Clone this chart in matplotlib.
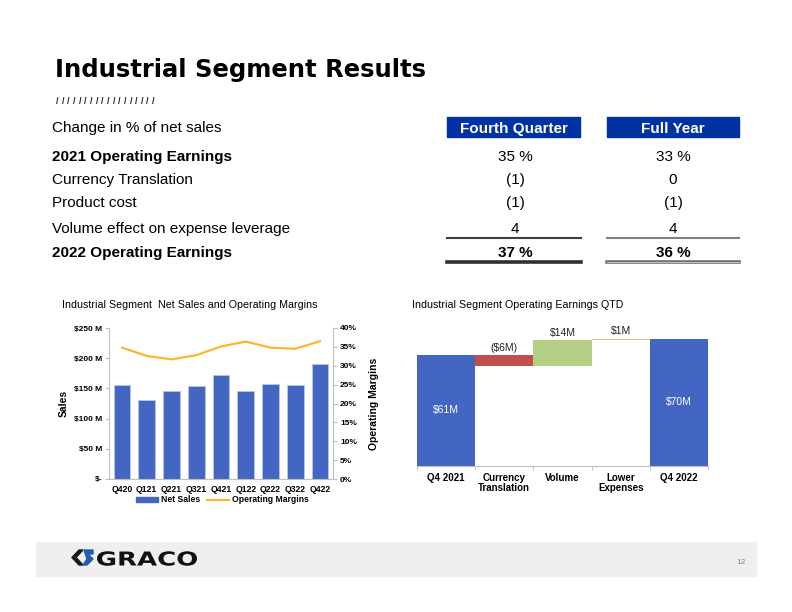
import numpy as np
import matplotlib
matplotlib.use("Agg")
import matplotlib.pyplot as plt
from matplotlib.patches import Rectangle, Polygon, PathPatch
from matplotlib.lines import Line2D
from matplotlib.textpath import TextPath
from matplotlib.font_manager import FontProperties
from matplotlib.transforms import Affine2D

plt.rcParams["font.family"] = ["Liberation Sans", "DejaVu Sans"]

# =========================
# DATA
# =========================
quarters = ["Q420", "Q121", "Q221", "Q321", "Q421", "Q122", "Q222", "Q322", "Q422"]
net_sales = [156, 130, 145, 154, 173, 145, 158, 155, 190]          # $M
op_margins = [34.8, 32.6, 31.7, 32.8, 35.1, 36.4, 34.8, 34.5, 36.5]  # %

wf_labels = ["Q4 2021", "Currency\nTranslation", "Volume", "Lower\nExpenses", "Q4 2022"]
wf_values = [61, -6, 14, 1, 70]
wf_text = ["$61M", "($6M)", "$14M", "$1M", "$70M"]

row_labels = ["2021 Operating Earnings", "Currency Translation", "Product cost",
              "Volume effect on expense leverage", "2022 Operating Earnings"]
fourth_quarter = ["35 %", "(1)", "(1)", "4", "37 %"]
full_year = ["33 %", "0", "(1)", "4", "36 %"]

W, H = 792, 612
BLUE = "#4266C1"
ORANGE = "#FDB72F"
HEAD = "#0033A1"


def fx(x):
    return x / W


def fy(y):
    return 1 - y / H


fig = plt.figure(figsize=(W / 100, H / 100), dpi=100)

# =========================
# TITLE + TABLE
# =========================
fig.text(fx(55), fy(67), "Industrial Segment Results", fontsize=17.5, fontweight="bold",
         family="DejaVu Sans", va="center_baseline", ha="left")
for k in range(18):
    fig.text(fx(56 + k * 5.65), fy(100), "/", fontsize=6.5, va="center_baseline", ha="left",
             color="#222222", fontweight="bold")

fig.text(fx(52), fy(126.5), "Change in % of net sales", fontsize=11, va="center_baseline")
row_y = [155.5, 178.5, 201.5, 227.5, 251.5]
for i, lab in enumerate(row_labels):
    bold = i in (0, 4)
    fig.text(fx(52), fy(row_y[i]), lab, fontsize=11, va="center_baseline",
             fontweight="bold" if bold else "normal")
    vw = "bold" if i == 4 else "normal"
    fig.text(fx(515), fy(row_y[i]), fourth_quarter[i], fontsize=11, va="center_baseline",
             ha="center", fontweight=vw)
    fig.text(fx(673), fy(row_y[i]), full_year[i], fontsize=11, va="center_baseline",
             ha="center", fontweight=vw)

for x0, x1, txt in [(447, 580, "Fourth Quarter"), (607, 739, "Full Year")]:
    fig.patches.append(Rectangle((fx(x0), fy(137)), fx(x1 - x0), 20 / H,
                                 transform=fig.transFigure, color=HEAD))
    fig.text(fx((x0 + x1) / 2), fy(127.5), txt, color="white", fontsize=11,
             fontweight="bold", ha="center", va="center_baseline")

# rule lines
fig.add_artist(Line2D([fx(447), fx(581)], [fy(237.5), fy(237.5)], color="#404040", lw=1.5))
fig.add_artist(Line2D([fx(447), fx(581)], [fy(261.5), fy(261.5)], color="#303030", lw=2.6))
fig.add_artist(Line2D([fx(607), fx(739)], [fy(237.5), fy(237.5)], color="#808080", lw=1.5))
fig.add_artist(Line2D([fx(607), fx(739)], [fy(261.5), fy(261.5)], color="#707070", lw=2.6))
fig.add_artist(Line2D([fx(607), fx(739)], [fy(261.5), fy(261.5)], color="#d0d0d0", lw=0.6))

# =========================
# LEFT CHART - sales + margins
# =========================
ax = fig.add_axes([fx(109), fy(479), fx(333 - 109), (479 - 328) / H])
x = np.arange(len(quarters))
ax.bar(x, net_sales, width=0.68, color=BLUE, edgecolor="#b8c6e8", linewidth=0.6)
ax.set_xlim(-0.525, len(quarters) - 0.475)
ax.set_ylim(0, 250)
ax.set_yticks([0, 50, 100, 150, 200, 250])
ax.set_yticklabels(["$-", "$50 M", "$100 M", "$150 M", "$200 M", "$250 M"],
                   fontsize=6, fontweight="bold")
ax.set_xticks(x)
ax.set_xticklabels(quarters, fontsize=6.2, fontweight="bold")
ax.tick_params(axis="x", length=0, pad=4)
ax.tick_params(axis="y", length=3, color="#bfbfbf", pad=2)
for s in ["top", "right"]:
    ax.spines[s].set_visible(False)
ax.spines["left"].set_color("#bfbfbf")
ax.spines["bottom"].set_color("#bfbfbf")
ax.set_ylabel("Sales", fontsize=7.5, fontweight="bold", labelpad=4)

ax2 = ax.twinx()
ax2.plot(x, op_margins, color=ORANGE, lw=1.6)
ax2.set_ylim(0, 40)
ax2.set_yticks(range(0, 41, 5))
ax2.set_yticklabels([f"{v}%" for v in range(0, 41, 5)], fontsize=6, fontweight="bold")
ax2.tick_params(axis="y", length=3, color="#bfbfbf", pad=2)
for s in ["top", "left", "bottom"]:
    ax2.spines[s].set_visible(False)
ax2.spines["right"].set_color("#bfbfbf")
ax2.set_ylabel("Operating Margins", fontsize=7.5, fontweight="bold", labelpad=9)

fig.text(fx(62), fy(305), "Industrial Segment  Net Sales and Operating Margins",
         fontsize=7.7, va="center")

handles = [Rectangle((0, 0), 1, 1, color=BLUE), Line2D([0], [0], color=ORANGE, lw=1.6)]
fig.legend(handles, ["Net Sales", "Operating Margins"], loc="center",
           bbox_to_anchor=(fx(222), fy(500)), ncol=2, frameon=False,
           prop={"size": 6.2, "weight": "bold"}, handlelength=2.6, handleheight=0.5,
           columnspacing=0.8, handletextpad=0.3)

# =========================
# RIGHT CHART - waterfall
# =========================
bx = fig.add_axes([fx(417), fy(466), fx(708 - 417), 75 * 1.82 / H])
vals = np.array(wf_values, dtype=float)
steps = vals[1:-1]
cum = vals[0] + np.concatenate([[0], np.cumsum(steps)])
bottoms = [0]
heights = [vals[0]]
colors = [BLUE]
for i, v in enumerate(steps):
    start = cum[i]
    bottoms.append(start if v >= 0 else start + v)
    heights.append(abs(v))
    colors.append("#B6CF86" if v >= 0 else "#C0504D")
bottoms.append(0)
heights.append(vals[-1])
colors.append(BLUE)

pos = np.arange(len(wf_labels))
bx.bar(pos, heights, bottom=bottoms, width=1.0, color=colors, edgecolor="none")
bx.set_xlim(-0.5, len(wf_labels) - 0.5)
bx.set_ylim(0, 75)
bx.set_yticks([])
for s in ["top", "right", "left"]:
    bx.spines[s].set_visible(False)
bx.spines["bottom"].set_color("#bfbfbf")
bx.set_xticks(pos)
bx.set_xticklabels(wf_labels, fontsize=7, fontweight="bold", linespacing=1.05)
bx.tick_params(axis="x", length=0, pad=5)
bx.set_xticks(np.arange(-0.5, len(wf_labels), 1.0), minor=True)
bx.tick_params(axis="x", which="minor", length=3, color="#bfbfbf")

for i, t in enumerate(wf_text):
    if i in (0, len(wf_text) - 1):
        bx.text(pos[i], heights[i] / 2, t, color="white", fontsize=7.5,
                ha="center", va="center")
    else:
        bx.text(pos[i], bottoms[i] + heights[i] + 1.2, t, color="#222222", fontsize=7.5,
                ha="center", va="bottom")

fig.text(fx(412), fy(305), "Industrial Segment Operating Earnings QTD", fontsize=7.7, va="center")

# =========================
# FOOTER
# =========================
fig.patches.append(Rectangle((fx(36), fy(576)), fx(756 - 36), 34 / H,
                             transform=fig.transFigure, color="#efefef", zorder=0))
chev = [(79, 550), (72, 557.5), (79, 565), (83, 565), (76, 557.5), (83, 550)]
fig.patches.append(Polygon([(fx(a), fy(b)) for a, b in chev], closed=True,
                           transform=fig.transFigure, color="#1a1a1a"))
blue_shape = [(84, 550), (93, 550), (93, 554), (88, 554), (93, 559), (87, 565), (83, 565), (87, 559)]
fig.patches.append(Polygon([(fx(a), fy(b)) for a, b in blue_shape], closed=True,
                           transform=fig.transFigure, color="#1f5fae"))

# wide, short wordmark
logo = TextPath((0, 0), "GRACO", size=1, prop=FontProperties(family="DejaVu Sans", weight="heavy"))
ext = logo.get_extents()
sx = 100 / ext.width
sy = 14 / 0.73
tr = Affine2D().translate(-ext.x0, 0).scale(sx / W, sy / H).translate(fx(97), fy(565.5)) + fig.transFigure
fig.patches.append(PathPatch(logo, transform=tr, color="#111111", lw=0))
fig.text(fx(741), fy(563), "12", fontsize=6, color="#8a8a8a", va="center", ha="center")

fig.savefig("out.png", dpi=100)
